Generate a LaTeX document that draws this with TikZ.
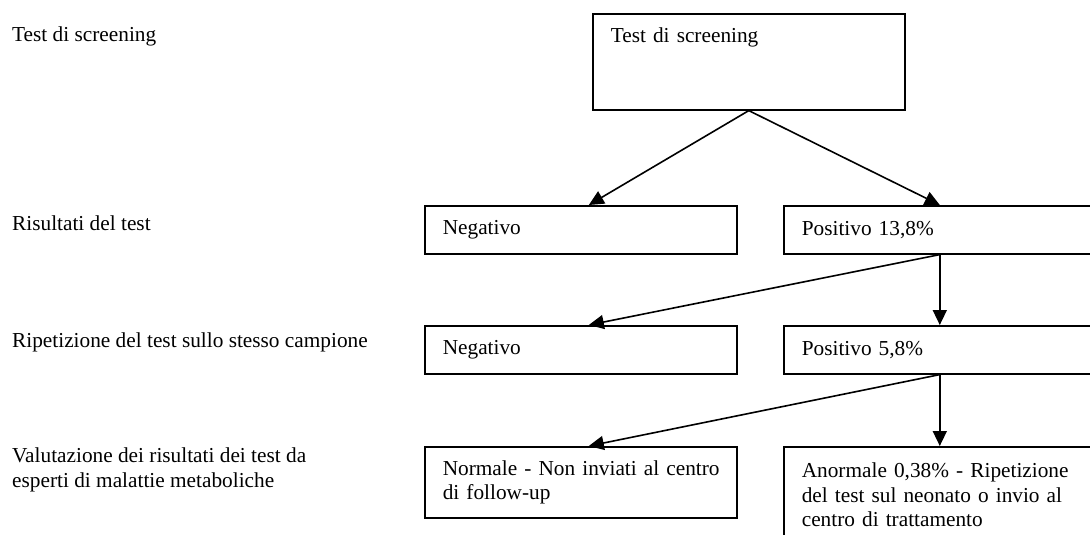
\documentclass[tikz,border=0pt]{standalone}
\usepackage{fontspec}
\setmainfont{Liberation Serif}
\usetikzlibrary{arrows.meta}
\tikzset{
    txt/.style={
        font=\fontsize{21.3}{24.5}\selectfont
    }
}

\begin{document}
\begin{tikzpicture}[x=1pt,y=-1pt]

% background
\useasboundingbox (0,0) rectangle (1090,535);
\clip (0,0) rectangle (1090,535);

\tikzset{
  box/.style={draw=black, line width=1.6pt, anchor=north west, align=left, text width=276pt, inner xsep=18pt, txt},
  arr/.style={draw=black, line width=1.6pt, -{Triangle[length=15pt,width=14pt]}},
  lab/.style={anchor=base west, align=left, inner sep=0pt, txt},
}

% row labels (base = last line)
\node[lab] (l1) at (12,42)  {Test di screening};
\node[lab] (l2) at (12,230) {Risultati del test};
\node[lab] (l3) at (12,347) {Ripetizione del test sullo stesso campione};
\node[lab] (l4) at (12,487) {Valutazione dei risultati dei test da\\esperti di malattie metaboliche};

% boxes
\node[box, text height=14pt, text depth=52pt, inner ysep=15pt] (screen) at (592,13) {Test di screening};

\node[box, minimum height=48pt] (neg1) at (424,205) {Negativo};
\node[box, minimum height=48pt] (pos1) at (783,205) {Positivo 13,8\%};

\node[box, minimum height=48pt] (neg2) at (424,325) {Negativo};
\node[box, minimum height=48pt] (pos2) at (783,325) {Positivo 5,8\%};

\node[box, minimum height=71pt] (norm)  at (424,446) {\mbox{Normale - Non inviati al centro}\\di follow-up};
\node[box, minimum height=96pt] (anorm) at (783,446) {\mbox{Anormale 0,38\% - Ripetizione}\\\mbox{del test sul neonato o invio al}\\centro di trattamento};

% arrows
\draw[arr] (screen.south) -- ([xshift=8pt]neg1.north);
\draw[arr] (screen.south) -- (pos1.north);

\draw[arr] (pos1.south) -- ([xshift=8pt]neg2.north);
\draw[arr] (pos1.south) -- (pos2.north);

\draw[arr] (pos2.south) -- ([xshift=8pt]norm.north);
\draw[arr] (pos2.south) -- (anorm.north);

\end{tikzpicture}
\end{document}
